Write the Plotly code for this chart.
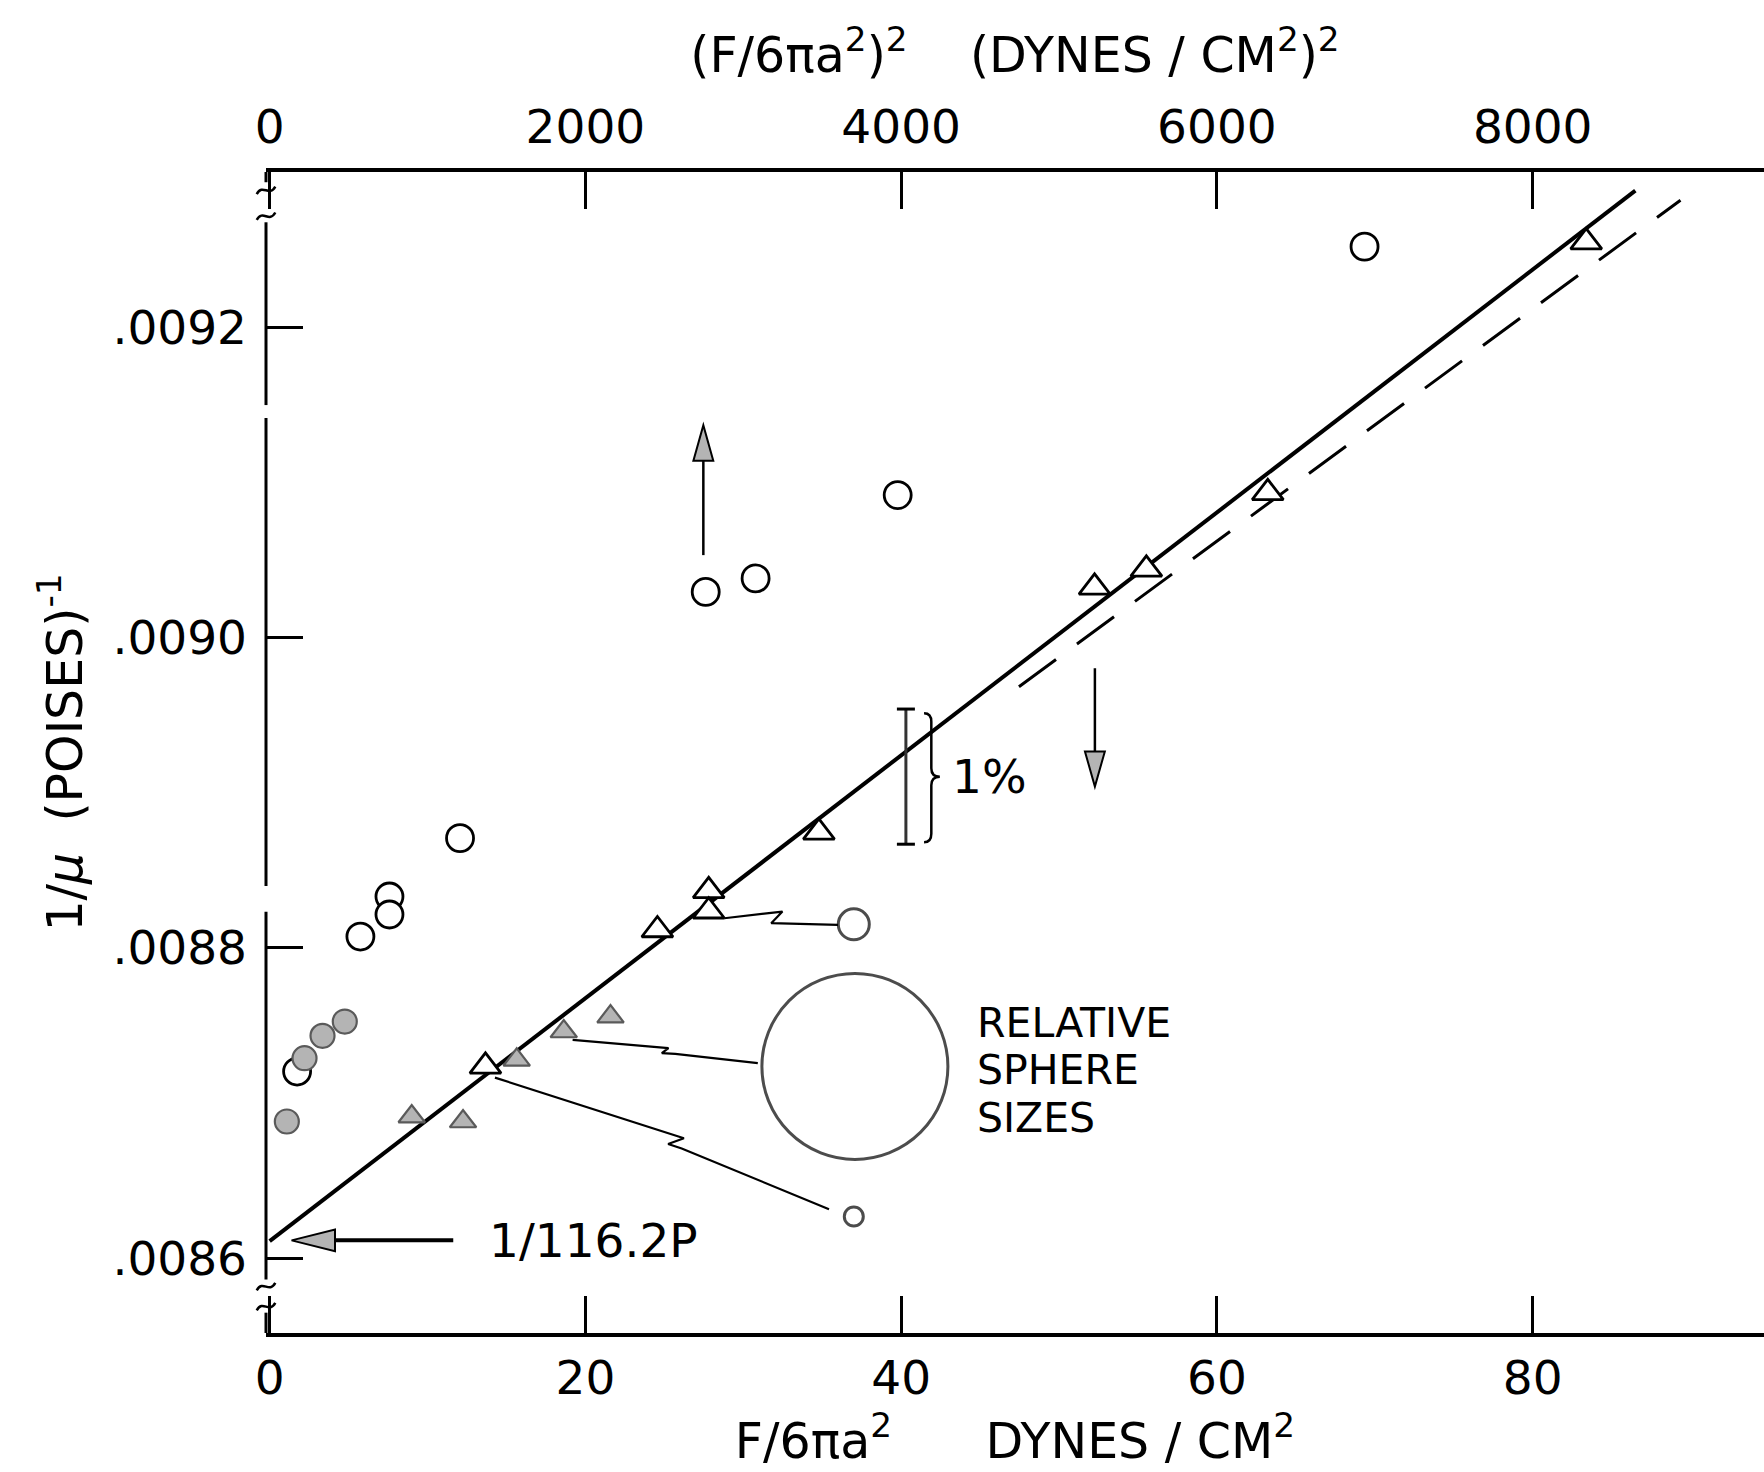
import plotly.graph_objects as go

# ---------------- data ----------------
# circles are plotted against the TOP axis (F/6πa²)², units (dynes/cm²)²
circ_open_x2 = [6935, 3978, 2762, 3078, 1206, 759, 759, 575, 174]
circ_open_y = [0.0092519, 0.0090918, 0.0090294, 0.0090381, 0.0088707,
               0.0088331, 0.0088215, 0.0088073, 0.0087203]
circ_fill_x2 = [476, 335, 221, 109]
circ_fill_y = [0.0087525, 0.0087433, 0.0087289, 0.0086881]

# triangles are plotted against the BOTTOM axis F/6πa², units dynes/cm²
tri_open_x = [83.39, 63.22, 55.53, 52.25, 34.79, 27.81, 27.81, 24.56, 13.67]
tri_open_y = [0.0092548, 0.0090932, 0.0090439, 0.0090323, 0.0088744,
              0.0088367, 0.0088236, 0.0088115, 0.0087236]
tri_fill_x = [9.00, 12.25, 15.65, 18.63, 21.59]
tri_fill_y = [0.0086913, 0.0086881, 0.0087278, 0.0087461, 0.0087557]

# straight-line fits
fit_x = [0.0, 86.5]
fit_y = [0.008611, 0.009288]
dash_x = [47.46, 89.36]
dash_y = [0.0089683, 0.0092818]

# "relative sphere sizes" key circles (x, y, diameter in px)
key_x = [37.00, 37.07, 37.00]
key_y = [0.0088152, 0.0087236, 0.0086269]
key_size = [31, 186, 19]

# hand-drawn leader lines from points to the size key
lead1_x = [28.80, 32.48, 31.77, 36.00]
lead1_y = [0.0088191, 0.0088234, 0.0088159, 0.0088148]
lead2_x = [19.19, 25.26, 24.84, 25.69, 30.92]
lead2_y = [0.0087407, 0.0087354, 0.0087321, 0.0087317, 0.0087257]
lead3_x = [14.27, 26.24, 25.24, 26.10, 35.43]
lead3_y = [0.0087164, 0.0086773, 0.0086736, 0.0086707, 0.0086316]

# axis ticks
x_ticks = [0, 20, 40, 60, 80]
x_ticktext = ["0", "20", "40", "60", "80"]
x2_ticks = [0, 2000, 4000, 6000, 8000]
x2_ticktext = ["0", "2000", "4000", "6000", "8000"]
y_ticks = [0.0086, 0.0088, 0.0090, 0.0092]
y_ticktext = [".0086", ".0088", ".0090", ".0092"]

x_range = [-0.23, 94.65]
y_range = [0.0085518, 0.0093000]

# ---------------- styling ----------------
FONT = "DejaVu Sans"
FS = 47
TFS = 49
KFS = 41
BLACK = "black"
GRAY_FILL = "#b4b4b4"
GRAY_EDGE = "#5a5a5a"
NB = "\u00a0"

fig = go.Figure()

# fits
fig.add_trace(go.Scatter(x=fit_x, y=fit_y, mode="lines",
                         line=dict(color=BLACK, width=4), hoverinfo="skip"))
fig.add_trace(go.Scatter(x=dash_x, y=dash_y, mode="lines",
                         line=dict(color=BLACK, width=3, dash="46px,26px"),
                         hoverinfo="skip"))

# leader lines
for lx, ly in [(lead1_x, lead1_y), (lead2_x, lead2_y), (lead3_x, lead3_y)]:
    fig.add_trace(go.Scatter(x=lx, y=ly, mode="lines",
                             line=dict(color=BLACK, width=2.2), hoverinfo="skip"))

# key circles
fig.add_trace(go.Scatter(x=key_x, y=key_y, mode="markers",
                         marker=dict(symbol="circle-open", size=key_size,
                                     color=BLACK, line=dict(width=3))))

# triangles (bottom axis)
fig.add_trace(go.Scatter(x=tri_open_x, y=tri_open_y, mode="markers",
                         marker=dict(symbol="triangle-up", size=27, color="white",
                                     line=dict(color=BLACK, width=2.8))))
fig.add_trace(go.Scatter(x=tri_fill_x, y=tri_fill_y, mode="markers",
                         marker=dict(symbol="triangle-up", size=23, color=GRAY_FILL,
                                     line=dict(color=GRAY_EDGE, width=2.2))))

# circles (top axis)
fig.add_trace(go.Scatter(x=circ_open_x2, y=circ_open_y, xaxis="x2", mode="markers",
                         marker=dict(symbol="circle", size=27, color="white",
                                     line=dict(color=BLACK, width=2.8))))
fig.add_trace(go.Scatter(x=circ_fill_x2, y=circ_fill_y, xaxis="x2", mode="markers",
                         marker=dict(symbol="circle", size=24, color=GRAY_FILL,
                                     line=dict(color=GRAY_EDGE, width=2.2))))

shapes = []
# broken left axis line
y_axis_segments = [(0.0093000, 0.0092934), (0.0092676, 0.0091498),
                   (0.0091414, 0.0088399), (0.0088232, 0.0085862),
                   (0.0085649, 0.0085518)]
for a, b in y_axis_segments:
    shapes.append(dict(type="line", xref="paper", yref="y", x0=0, x1=0, y0=a, y1=b,
                       line=dict(color=BLACK, width=3)))
# axis-break squiggles (small tildes across the axis)
tw, th = 0.0062, 0.0000048
for yy in [0.0092882, 0.0092715, 0.0085817, 0.0085688]:
    shapes.append(dict(type="path", xref="paper", yref="y",
                       path=(f"M {-tw},{yy - th/2} C {-tw/3},{yy + th} "
                             f"{tw/3},{yy - th} {tw},{yy + th/2}"),
                       line=dict(color=BLACK, width=2.5)))

# arrows: (x, tail, head base, tip, half width)
def v_arrow(x, tail, base, tip, hw):
    shapes.append(dict(type="line", xref="x", yref="y", x0=x, x1=x, y0=tail, y1=base,
                       line=dict(color=BLACK, width=2.5)))
    shapes.append(dict(type="path", xref="x", yref="y",
                       path=f"M {x-hw},{base} L {x+hw},{base} L {x},{tip} Z",
                       fillcolor=GRAY_FILL, line=dict(color=BLACK, width=2)))

v_arrow(27.47, 0.0090531, 0.0091139, 0.0091368, 0.63)
v_arrow(52.27, 0.0089802, 0.0089266, 0.0089039, 0.63)

# horizontal arrow to the intercept
ha_y, ha_tail, ha_base, ha_tip, ha_hh = 0.0086115, 11.63, 4.14, 1.39, 0.0000070
shapes.append(dict(type="line", xref="x", yref="y", x0=ha_tail, x1=ha_base,
                   y0=ha_y, y1=ha_y, line=dict(color=BLACK, width=4)))
shapes.append(dict(type="path", xref="x", yref="y",
                   path=f"M {ha_base},{ha_y-ha_hh} L {ha_base},{ha_y+ha_hh} L {ha_tip},{ha_y} Z",
                   fillcolor=GRAY_FILL, line=dict(color=BLACK, width=2)))

# 1 % bar
bar_x, bar_top, bar_bot, cap = 40.30, 0.0089539, 0.0088668, 0.57
shapes.append(dict(type="line", xref="x", yref="y", x0=bar_x, x1=bar_x, y0=bar_bot,
                   y1=bar_top, line=dict(color="#333333", width=3)))
for yy in (bar_top, bar_bot):
    shapes.append(dict(type="line", xref="x", yref="y", x0=bar_x - cap, x1=bar_x + cap,
                       y0=yy, y1=yy, line=dict(color=BLACK, width=3)))
# brace
bx, btop, bbot, bmid, btip, d, hx = 41.91, 0.0089512, 0.0088681, 0.0089103, 42.45, 0.0000055, 41.45
brace = (f"M {hx},{btop} Q {bx},{btop} {bx},{btop-d} L {bx},{bmid+d} "
         f"Q {bx},{bmid} {btip},{bmid} Q {bx},{bmid} {bx},{bmid-d} "
         f"L {bx},{bbot+d} Q {bx},{bbot} {hx},{bbot}")
shapes.append(dict(type="path", xref="x", yref="y", path=brace,
                   line=dict(color=BLACK, width=2.5)))

annotations = []
txt = dict(family=FONT, size=FS, color=BLACK)
annotations.append(dict(x=13.74, y=0.0086115, xref="x", yref="y", text="1/116.2P",
                        showarrow=False, xanchor="left", yanchor="middle", font=txt))
annotations.append(dict(x=45.62, y=0.0089103, xref="x", yref="y", text="1%",
                        showarrow=False, xanchor="center", yanchor="middle", font=txt))
for word, yy in zip(["RELATIVE", "SPHERE", "SIZES"], [0.0087515, 0.0087214, 0.0086903]):
    annotations.append(dict(x=44.65, y=yy, xref="x", yref="y", text=word,
                            showarrow=False, xanchor="left", yanchor="middle",
                            font=dict(family=FONT, size=KFS, color=BLACK)))

axis_common = dict(showgrid=False, zeroline=False, ticks="inside", ticklen=37,
                   tickwidth=2.5, tickcolor=BLACK,
                   tickfont=dict(family=FONT, size=FS, color=BLACK))

fig.update_layout(
    width=1764, height=1472, autosize=False,
    margin=dict(l=266, r=0, t=172, b=139, pad=0),
    paper_bgcolor="white", plot_bgcolor="white",
    showlegend=False,
    font=dict(family=FONT, size=FS, color=BLACK),
    xaxis=dict(range=x_range, tickvals=x_ticks, ticktext=x_ticktext,
               showline=True, linewidth=4, linecolor=BLACK, ticklabelstandoff=1,
               title=dict(text=f"F/6πa<sup>2</sup>{NB*6}DYNES / CM<sup>2</sup>",
                          font=dict(family=FONT, size=TFS), standoff=9),
               **axis_common),
    xaxis2=dict(range=[x_range[0] * 100, x_range[1] * 100], overlaying="x", side="top",
                anchor="y", tickvals=x2_ticks, ticktext=x2_ticktext,
                showline=True, linewidth=4, linecolor=BLACK, ticklabelstandoff=6,
                title=dict(text=f"(F/6πa<sup>2</sup>)<sup>2</sup>{NB*4}(DYNES / CM<sup>2</sup>)<sup>2</sup>",
                           font=dict(family=FONT, size=TFS), standoff=12),
                **axis_common),
    yaxis=dict(range=y_range, tickvals=y_ticks, ticktext=y_ticktext, showline=False,
               ticklabelstandoff=18,
               title=dict(text=f"1/<i>μ</i>{NB*2}(POISES)<sup>-1</sup>",
                          font=dict(family=FONT, size=TFS), standoff=14),
               **axis_common),
    shapes=shapes, annotations=annotations,
)

fig.write_html("out.html", config={"displayModeBar": False},
               post_script="document.body.style.margin='0px';"
                           "document.body.style.overflow='hidden';")
